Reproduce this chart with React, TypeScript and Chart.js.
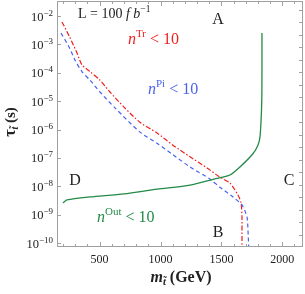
import React, { useEffect, useRef } from 'react';
import { Chart, registerables } from 'chart.js';

Chart.register(...registerables);

// n^Tr < 10 contour (red, dot-dashed)
const trackerMass = [191, 257, 314, 355, 421, 503, 585, 700, 831, 971, 1102, 1242, 1382, 1488, 1570, 1636, 1661, 1669, 1669, 1669];
const trackerLifetime = [6.2e-3, 1.7e-3, 5.0e-4, 1.9e-4, 1.1e-4, 5.5e-5, 2.1e-5, 6.2e-6, 1.8e-6, 7.6e-7, 2.8e-7, 1.1e-7, 4.4e-8, 2.1e-8, 1.3e-8, 4.9e-9, 2.6e-9, 8.3e-10, 2.9e-10, 5e-11];

// n^Pi < 10 contour (blue, dashed)
const pixelMass = [183, 249, 298, 355, 421, 503, 626, 831, 971, 1102, 1242, 1406, 1488, 1595, 1669, 1710, 1718, 1726];
const pixelLifetime = [2.5e-3, 8.1e-4, 2.8e-4, 1.1e-4, 5.5e-5, 2.1e-5, 5.8e-6, 8.1e-7, 3.3e-7, 1.3e-7, 4.8e-8, 1.8e-8, 9.3e-9, 4.2e-9, 2.2e-9, 8.3e-10, 2.9e-10, 5e-11];

// n^Out < 10 contour (green, solid)
const outerMass = [199, 232, 421, 700, 971, 1242, 1439, 1570, 1652, 1759, 1800, 1817, 1831, 1833, 1833];
const outerLifetime = [2.6e-9, 3.3e-9, 4.2e-9, 5.4e-9, 7.9e-9, 1.1e-8, 1.8e-8, 2.5e-8, 4.8e-8, 1.4e-7, 2.8e-7, 5.5e-7, 8.5e-6, 1.3e-4, 2.5e-3];

const xTickValues = [500, 1000, 1500, 2000];
const xTickLabels = ['500', '1000', '1500', '2000'];
const xMinorStep = 100;
const yTickValues = [1e-10, 1e-9, 1e-8, 1e-7, 1e-6, 1e-5, 1e-4, 1e-3, 1e-2];
const yTickExponents = ['\u221210', '\u22129', '\u22128', '\u22127', '\u22126', '\u22125', '\u22124', '\u22123', '\u22122'];

const RED = '#ee1f1f';
const BLUE = '#4a63ea';
const GREEN = '#238a47';
const FRAME = '#a0a0a0';
const TEXT = '#222222';
const FF = '"Liberation Serif", "DejaVu Serif", serif';

type Seg = { t: string; font: string; dy?: number };

function segWidth(ctx: CanvasRenderingContext2D, segs: Seg[]) {
  let w = 0;
  for (const s of segs) {
    ctx.font = s.font;
    w += ctx.measureText(s.t).width;
  }
  return w;
}

function drawSegs(ctx: CanvasRenderingContext2D, segs: Seg[], x: number, y: number, align: 'left' | 'center' | 'right', color: string) {
  const w = segWidth(ctx, segs);
  let cx = align === 'left' ? x : align === 'center' ? x - w / 2 : x - w;
  ctx.textAlign = 'left';
  ctx.textBaseline = 'alphabetic';
  ctx.fillStyle = color;
  for (const s of segs) {
    ctx.font = s.font;
    ctx.fillText(s.t, cx, y + (s.dy ?? 0));
    cx += ctx.measureText(s.t).width;
  }
}

const whiteBg = {
  id: 'whiteBg',
  beforeDraw(chart: any) {
    const { ctx, width, height } = chart;
    ctx.save();
    ctx.fillStyle = '#ffffff';
    ctx.fillRect(0, 0, width, height);
    ctx.restore();
  },
};

const decorPlugin = {
  id: 'decor',
  afterDraw(chart: any) {
    const { ctx, chartArea: a, scales } = chart;
    const xs = scales.x;
    const ys = scales.y;
    const yr = scales.yr;
    ctx.save();
    ctx.strokeStyle = FRAME;
    ctx.lineWidth = 1;
    ctx.strokeRect(a.left + 0.5, a.top + 0.5, a.right - a.left - 1, a.bottom - a.top - 1);
    const seg = (x1: number, y1: number, x2: number, y2: number) => {
      ctx.beginPath();
      ctx.moveTo(x1, y1);
      ctx.lineTo(x2, y2);
      ctx.stroke();
    };
    for (let v = 200; v <= 2100; v += xMinorStep) {
      const px = Math.round(xs.getPixelForValue(v)) + 0.5;
      const major = xTickValues.includes(v);
      const len = major ? 5 : 3;
      seg(px, a.bottom, px, a.bottom - len);
      seg(px, a.top, px, a.top + len);
    }
    for (const v of yTickValues) {
      const py = Math.round(ys.getPixelForValue(v)) + 0.5;
      seg(a.left, py, a.left + 4, py);
    }
    for (let i = 1; i < 20; i++) {
      const py = Math.round(yr.getPixelForValue(i)) + 0.5;
      seg(a.right, py, a.right - 4, py);
    }
    ctx.fillStyle = TEXT;
    ctx.font = `12px ${FF}`;
    ctx.textAlign = 'center';
    ctx.textBaseline = 'alphabetic';
    xTickValues.forEach((v, i) => {
      ctx.fillText(xTickLabels[i], xs.getPixelForValue(v), a.bottom + 16);
    });
    yTickValues.forEach((v, i) => {
      const py = ys.getPixelForValue(v);
      drawSegs(ctx, [
        { t: '10', font: `12.5px ${FF}` },
        { t: yTickExponents[i], font: `9px ${FF}`, dy: -5 },
      ], a.left - 4, py + 4.5, 'right', TEXT);
    });
    drawSegs(ctx, [
      { t: 'm', font: `italic bold 16px ${FF}` },
      { t: 't\u0303', font: `italic bold 10.5px ${FF}`, dy: 3 },
      { t: ' (GeV)', font: `bold 16px ${FF}` },
    ], 181, 282, 'center', TEXT);
    ctx.save();
    ctx.translate(15, 122);
    ctx.rotate(-Math.PI / 2);
    drawSegs(ctx, [
      { t: '\u03c4', font: `bold 16px ${FF}` },
      { t: 't\u0303', font: `italic bold 10px ${FF}`, dy: 3 },
      { t: ' (s)', font: `bold 15px ${FF}` },
    ], 0, 0, 'center', TEXT);
    ctx.restore();

    const at = (mx: number, ly: number): [number, number] => [xs.getPixelForValue(mx), ys.getPixelForValue(ly)];
    {
      const [px, py] = at(322, 1.3e-2);
      drawSegs(ctx, [
        { t: 'L = 100 ', font: `14px ${FF}` },
        { t: 'f b', font: `italic 14px ${FF}` },
        { t: '\u22121', font: `9.5px ${FF}`, dy: -6 },
      ], px, py + 5, 'left', TEXT);
    }
    const region = (t: string, mx: number, ly: number) => {
      const [px, py] = at(mx, ly);
      drawSegs(ctx, [{ t, font: `16px ${FF}` }], px, py + 5.5, 'center', TEXT);
    };
    region('A', 1472, 8.5e-3);
    region('B', 1472, 2.6e-10);
    region('C', 2055, 1.7e-8);
    region('D', 298, 1.8e-8);
    const nLabel = (sup: string, mx: number, ly: number, color: string) => {
      const [px, py] = at(mx, ly);
      drawSegs(ctx, [
        { t: 'n', font: `italic 16px ${FF}` },
        { t: sup, font: `11px ${FF}`, dy: -7 },
        { t: ' < 10', font: `16px ${FF}` },
      ], px, py + 5.5, 'left', color);
    };
    nLabel('Tr', 733, 1.66e-3, RED);
    nLabel('Pi', 897, 2.9e-5, BLUE);
    nLabel('Out', 478, 8.3e-10, GREEN);
    ctx.restore();
  },
};

export default function App() {
  const ref = useRef<HTMLCanvasElement>(null);
  useEffect(() => {
    document.body.style.background = '#ffffff';
    if (!ref.current) return;
    const mk = (xs: number[], ys: number[]) => xs.map((x, i) => ({ x, y: ys[i] }));
    const chart = new Chart(ref.current, {
      type: 'line',
      data: {
        datasets: [
          {
            data: mk(outerMass, outerLifetime),
            borderColor: GREEN,
            borderWidth: 1.3,
            pointRadius: 0,
            tension: 0.25,
            fill: false,
          },
          {
            data: mk(pixelMass, pixelLifetime),
            borderColor: BLUE,
            borderWidth: 1.2,
            borderDash: [4, 3],
            pointRadius: 0,
            tension: 0.25,
            fill: false,
          },
          {
            data: mk(trackerMass, trackerLifetime),
            borderColor: RED,
            borderWidth: 1.2,
            borderDash: [5, 2, 1.5, 2],
            pointRadius: 0,
            tension: 0.25,
            fill: false,
          },
        ],
      },
      options: {
        animation: false,
        responsive: true,
        maintainAspectRatio: false,
        layout: { padding: { left: 57, right: 2, top: 1, bottom: 47 } },
        plugins: { legend: { display: false }, tooltip: { enabled: false } },
        scales: {
          x: { type: 'linear', min: 150, max: 2170, display: false },
          y: { type: 'logarithmic', min: Math.pow(10, -10.14), max: Math.pow(10, -1.47), display: false },
          yr: { type: 'linear', min: 0, max: 19.7, display: false, position: 'right' },
        },
      },
      plugins: [whiteBg, decorPlugin],
    });
    return () => chart.destroy();
  }, []);
  return (
    <div style={{ position: 'fixed', left: 0, top: 0, width: 305, height: 294, background: '#fff' }}>
      <canvas ref={ref} />
    </div>
  );
}
